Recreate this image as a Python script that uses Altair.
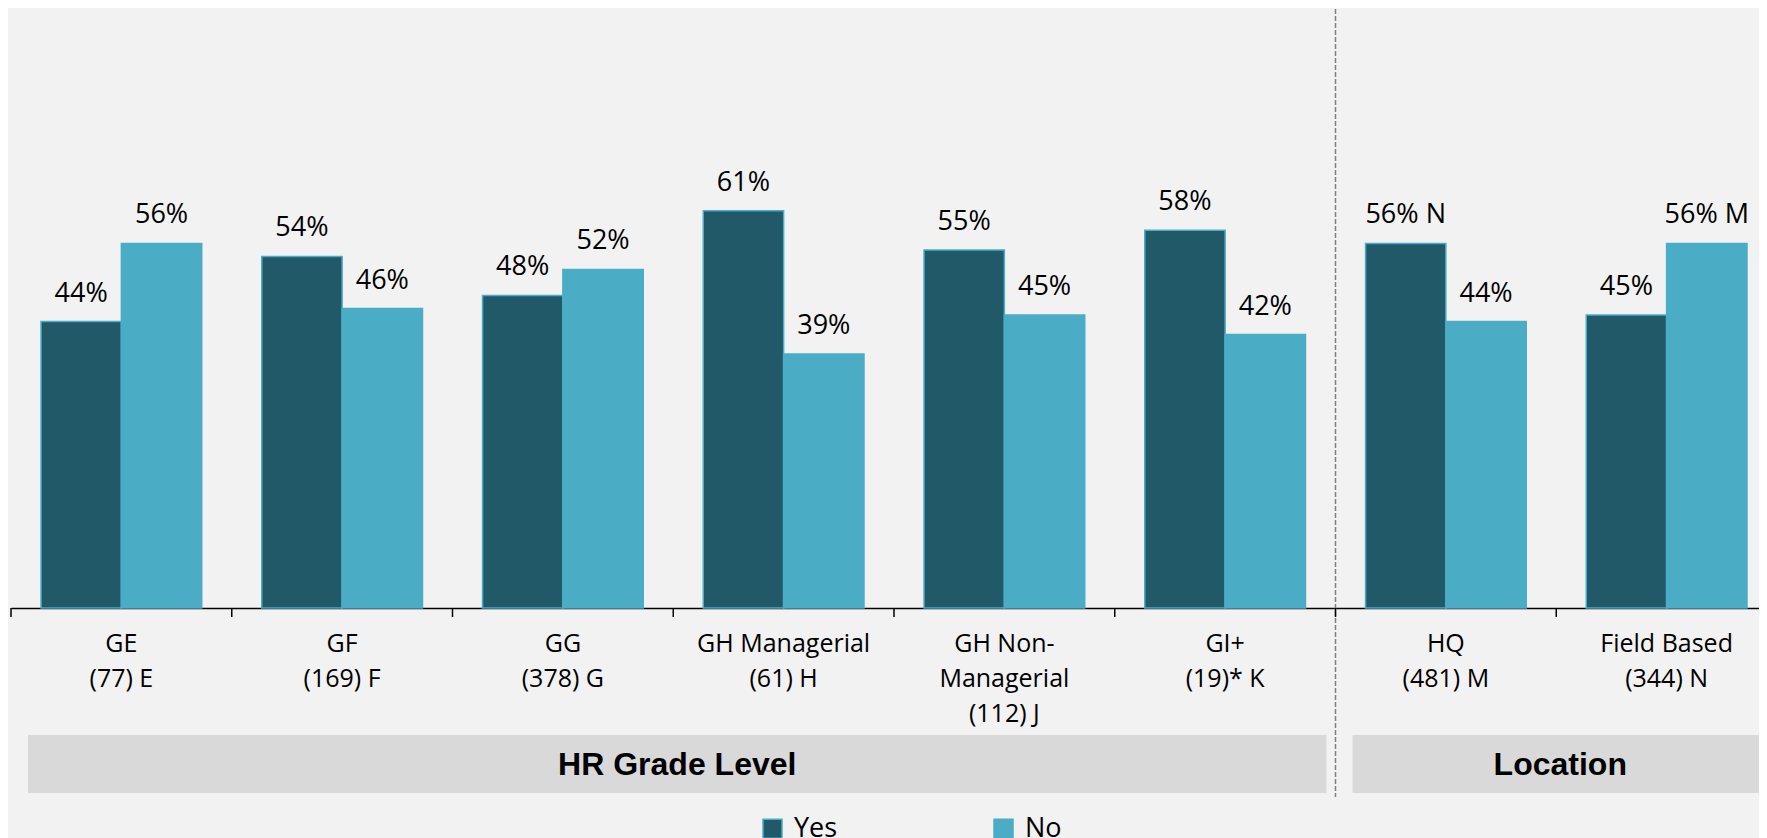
import altair as alt
import pandas as pd

categories = ["GE\n(77) E", "GF\n(169) F", "GG\n(378) G", "GH Managerial\n(61) H",
              "GH Non-\nManagerial\n(112) J", "GI+\n(19)* K", "HQ\n(481) M", "Field Based\n(344) N"]
series = ["Yes", "No"]
yes_values = [44, 54, 48, 61, 55, 58, 56, 45]
no_values = [56, 46, 52, 39, 45, 42, 44, 56]
yes_sig = ["", "", "", "", "", "", "N", ""]
no_sig = ["", "", "", "", "", "", "", "M"]
groups = ["HR Grade Level", "Location"]
group_start = [0, 6]
group_end = [6, 8]
divider_at = [6]
tick_positions = list(range(len(categories) + 1))
colors = ["#215968", "#4bacc6"]

rows = []
for i, c in enumerate(categories):
    for s, vals, sig in (("Yes", yes_values, yes_sig), ("No", no_values, no_sig)):
        rows.append({"cat": c, "series": s, "value": vals[i] / 100,
                     "label": f"{vals[i]}%" + (f" {sig[i]}" if sig[i] else "")})
df = pd.DataFrame(rows)
gdf = pd.DataFrame({"group": groups, "start": group_start, "end": group_end})
ddf = pd.DataFrame({"pos": divider_at})
tdf = pd.DataFrame({"pos": tick_positions})

W, H = 1748, 599
XR = [0, 1766]
xband = alt.Scale(domain=categories, range=XR, paddingInner=0.272, paddingOuter=0.136)
xq = alt.Scale(domain=[0, len(categories)], range=XR, nice=False, zero=False)
yscale = alt.Scale(domain=[0, 0.92], nice=False, zero=True)

x_enc = alt.X("cat:N", sort=categories, scale=xband, title=None,
              axis=alt.Axis(labelExpr="split(datum.label, '\\n')", labelAngle=0,
                            labelFont="Open Sans", labelFontSize=25, labelColor="#000000",
                            labelLineHeight=35, labelPadding=23, labelLimit=0,
                            labelOverlap=False, ticks=False, tickSize=9,
                            domainColor="#000000", domainWidth=1.5, grid=False))

bars = alt.Chart(df).mark_bar(stroke="#4bacc6", strokeWidth=1.5).encode(
    x=x_enc,
    xOffset=alt.XOffset("series:N", sort=series, scale=alt.Scale(paddingInner=0, paddingOuter=0)),
    y=alt.Y("value:Q", scale=yscale, axis=None),
    color=alt.Color("series:N", sort=series,
                    scale=alt.Scale(domain=series, range=colors),
                    legend=alt.Legend(title=None, orient="none", legendX=748, legendY=806,
                                      direction="horizontal", symbolType="square",
                                      symbolSize=361, symbolStrokeColor="#4bacc6",
                                      symbolStrokeWidth=1.5, labelFont="Open Sans",
                                      labelFontSize=27, labelColor="#000000",
                                      labelOffset=8, columnPadding=152, padding=0)),
)

texts = alt.Chart(df).mark_text(dy=-20, baseline="alphabetic", font="Open Sans",
                                fontSize=27, color="#000000").encode(
    x=alt.X("cat:N", sort=categories, scale=xband, axis=None),
    xOffset=alt.XOffset("series:N", sort=series, scale=alt.Scale(padding=0.5)),
    y=alt.Y("value:Q", scale=yscale, axis=None),
    text="label:N",
)

ticks = alt.Chart(tdf).mark_rule(color="#000000", strokeWidth=1.5).encode(
    x=alt.X("pos:Q", scale=xq, axis=None),
    y=alt.value(H),
    y2=alt.value(H + 9),
)

boxes = alt.Chart(gdf).mark_rect(color="#d9d9d9", xOffset=17, x2Offset=-9).encode(
    x=alt.X("start:Q", scale=xq, axis=None),
    x2="end:Q",
    y=alt.value(726),
    y2=alt.value(784),
)

box_text = alt.Chart(gdf).transform_calculate(mid="(datum.start + datum.end) / 2").mark_text(
    font="Liberation Sans", fontWeight="bold", fontSize=32, color="#000000",
    baseline="alphabetic", dx=4).encode(
    x=alt.X("mid:Q", scale=xq, axis=None),
    y=alt.value(766),
    text="group:N",
)

divider = alt.Chart(ddf).mark_rule(color="#7f7f7f", strokeWidth=1.5, strokeDash=[5, 2]).encode(
    x=alt.X("pos:Q", scale=xq, axis=None),
    y=alt.value(0),
    y2=alt.value(788),
)

chart = alt.layer(boxes, box_text, divider, ticks, bars, texts).resolve_scale(
    x="independent", xOffset="independent"
).properties(
    width=W, height=H,
    autosize=alt.AutoSizeParams(type="none"),
    padding={"left": 3, "top": 1, "right": 0, "bottom": 230},
).configure(background="#f2f2f2").configure_view(stroke=None)

chart.save("out.html", embed_options={"renderer": "svg", "actions": False})
